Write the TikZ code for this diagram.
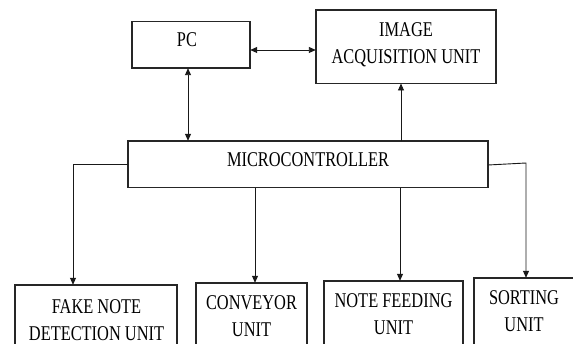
\documentclass[tikz,border=0pt]{standalone}
\usepackage{fontspec}
\setmainfont{Liberation Serif}[FakeStretch=0.78]
\usetikzlibrary{arrows.meta}
\begin{document}
\begin{tikzpicture}[x=1pt,y=-1pt,
  box/.style={draw=black!85,line width=1.1pt},
  lbl/.style={inner sep=0pt,align=center,anchor=base,font=\fontsize{21}{27}\selectfont},
  conn/.style={draw=black!90,line width=0.9pt},
  tip/.style={-{Triangle[length=7pt,width=6pt]}},
  dtip/.style={{Triangle[length=7pt,width=6pt]}-{Triangle[length=7pt,width=6pt]}}]
\useasboundingbox (0,0) rectangle (573,344);
\clip (0,0) rectangle (573,344);
% boxes
\path[box] (132,21.7) rectangle (250,68);
\node[inner sep=0pt,minimum width=118pt,minimum height=46.3pt] (pc) at (191,44.85) {};
\path[box] (316,10) rectangle (496,83.3);
\node[inner sep=0pt,minimum width=180pt,minimum height=73.3pt] (img) at (406,46.65) {};
\path[box] (128,141) rectangle (488,187.7);
\node[inner sep=0pt,minimum width=360pt,minimum height=46.7pt] (mc) at (308,164.35) {};
\path[box] (15,285) rectangle (177,380);
\node[inner sep=0pt,minimum width=162pt,minimum height=95pt] (fake) at (96,332.5) {};
\path[box] (196,283) rectangle (307,380);
\node[inner sep=0pt,minimum width=111pt,minimum height=97pt] (conv) at (251.5,331.5) {};
\path[box] (324,281) rectangle (463,380);
\node[inner sep=0pt,minimum width=139pt,minimum height=99pt] (feed) at (393.5,330.5) {};
\path[box] (474,278) rectangle (580,380);
\node[inner sep=0pt,minimum width=106pt,minimum height=102pt] (sort) at (527,329) {};
% labels
\node[lbl] (pct) at (187,46.7) {PC};
\node[lbl] (imgt) at (406,63.3) {IMAGE\\ACQUISITION UNIT};
\node[lbl] (mct) at (308,166.7) {MICROCONTROLLER};
\node[lbl] (faket) at (96.5,340.7) {FAKE NOTE\\DETECTION UNIT};
\node[lbl] (convt) at (251.5,336.5) {CONVEYOR\\UNIT};
\node[lbl] (feedt) at (393.5,335) {NOTE FEEDING\\UNIT};
\node[lbl] (sortt) at (524,331.5) {SORTING\\UNIT};
% connectors
\coordinate (lc) at (73,164);
\coordinate (rc1) at (488,165);
\coordinate (rc2) at (526,163);
\draw[conn,dtip] (pc.east |- 0,50) -- (img.west |- 0,50);
\draw[conn,dtip] (pc.south -| 188,0) -- (mc.north -| 188,0);
\draw[conn,tip] (mc.north -| 401,0) -- (img.south -| 401,0);
\draw[conn,tip] (mc.west |- lc) -- (lc) -- (fake.north -| lc);
\draw[conn,tip] (mc.south -| 255,0) -- (conv.north -| 255,0);
\draw[conn,tip] (mc.south -| 400,0) -- (feed.north -| 400,0);
\draw[conn,tip] (rc1) -- (rc2) -- (sort.north -| rc2);
\end{tikzpicture}
\end{document}
